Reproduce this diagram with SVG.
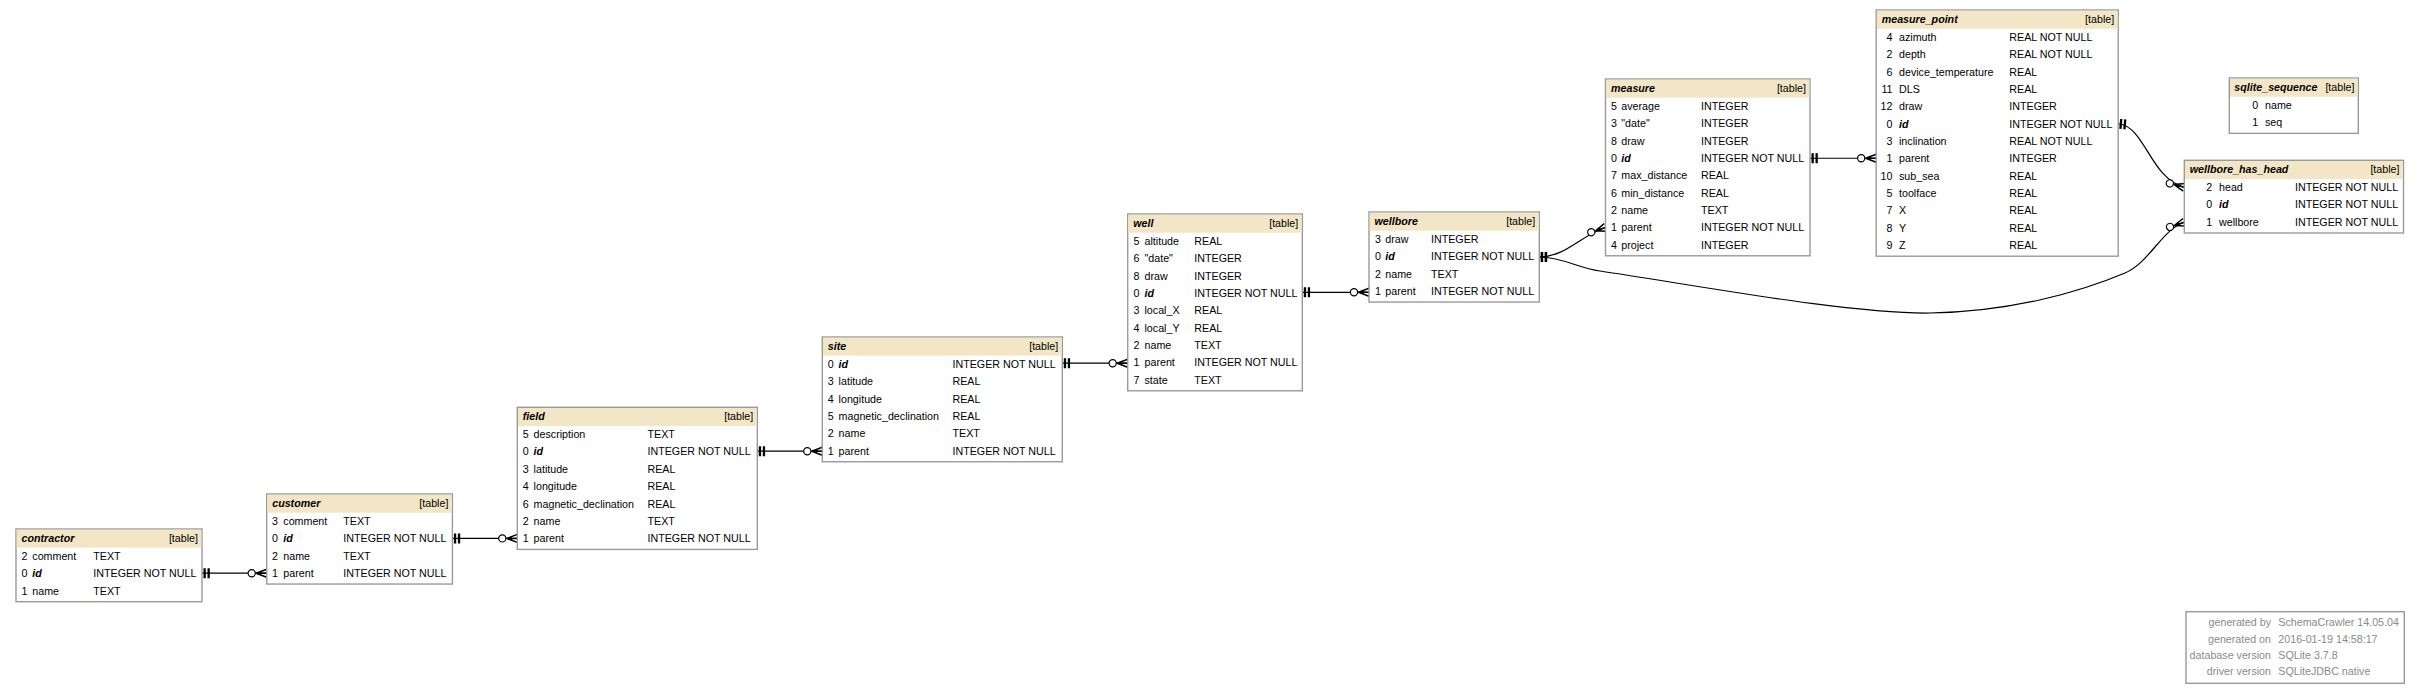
<svg xmlns="http://www.w3.org/2000/svg" width="2420" height="695" viewBox="0 0 2420 695">
<style>
text{font-family:"Liberation Sans",Arial,Helvetica,sans-serif;font-size:10.7px;fill:#000}
.b{fill:#fff;stroke:#9a9a9a;stroke-width:1.4}
.h{fill:#f2e6c6}
.t{font-weight:bold;font-style:italic}
.e{text-anchor:end}
.f{fill:#8a8a8a}
.c{fill:none;stroke:#000;stroke-width:1.2;marker-start:url(#tee);marker-end:url(#crow)}
</style>
<defs>
<marker id="tee" markerUnits="userSpaceOnUse" orient="auto" markerWidth="12" markerHeight="12" refX="0" refY="0" style="overflow:visible">
<path d="M1.5,-5h2.3v10h-2.3z M5.5,-5h2.3v10h-2.3z" fill="#000"/>
</marker>
<marker id="crow" markerUnits="userSpaceOnUse" orient="auto" markerWidth="20" markerHeight="12" refX="0" refY="0" style="overflow:visible">
<circle cx="-15" cy="0" r="3.6" fill="#fff" stroke="#000" stroke-width="1.2"/>
<path d="M-10.5,0L0,-4M-10.5,0L0,0M-10.5,0L0,4" fill="none" stroke="#000" stroke-width="1.5"/>
<path d="M-11,0L-5.5,-2.2L-5.5,2.2Z" fill="#000"/>
</marker>
</defs>
<rect width="2420" height="695" fill="#fff"/>

<g id="connectors">
<path class="c" d="M202,573.2L266.7,573.2"/>
<path class="c" d="M452.4,538.4L517.3,538.4"/>
<path class="c" d="M757.3,451.2L822.3,451.2"/>
<path class="c" d="M1062.3,363.2L1127.7,363.2"/>
<path class="c" d="M1302.3,292.3L1369,292.3"/>
<path class="c" d="M1539.3,257C1565,257 1580,236 1605.5,227.5"/>
<path class="c" d="M1539.3,257C1562,257 1578,268 1600,271C1700,286 1850,314 1930,313C2010,312 2080,292 2125,273C2150,262 2162,229.5 2184.3,222.3"/>
<path class="c" d="M1810,158.25L1876.2,158.25"/>
<path class="c" d="M2118.2,123.75C2145,126 2150,178 2184.3,187.3"/>
</g>

<g id="contractor">
<rect class="b" x="16" y="529" width="186" height="72.7"/>
<rect class="h" x="16.7" y="529.7" width="184.6" height="18"/>
<text class="t" x="21.5" y="542.1">contractor</text><text class="e" x="198" y="542.1">[table]</text>
<text class="e" x="27.5" y="559.8">2</text><text x="32.3" y="559.8">comment</text><text x="93.3" y="559.8">TEXT</text>
<text class="e" x="27.5" y="577.15">0</text><text class="t" x="32.3" y="577.15">id</text><text x="93.3" y="577.15">INTEGER NOT NULL</text>
<text class="e" x="27.5" y="594.5">1</text><text x="32.3" y="594.5">name</text><text x="93.3" y="594.5">TEXT</text>
</g>

<g id="customer">
<rect class="b" x="266.7" y="494" width="185.7" height="90.05"/>
<rect class="h" x="267.4" y="494.7" width="184.3" height="18"/>
<text class="t" x="272.2" y="507.1">customer</text><text class="e" x="448.4" y="507.1">[table]</text>
<text class="e" x="278" y="524.8">3</text><text x="283.3" y="524.8">comment</text><text x="343.3" y="524.8">TEXT</text>
<text class="e" x="278" y="542.15">0</text><text class="t" x="283.3" y="542.15">id</text><text x="343.3" y="542.15">INTEGER NOT NULL</text>
<text class="e" x="278" y="559.5">2</text><text x="283.3" y="559.5">name</text><text x="343.3" y="559.5">TEXT</text>
<text class="e" x="278" y="576.85">1</text><text x="283.3" y="576.85">parent</text><text x="343.3" y="576.85">INTEGER NOT NULL</text>
</g>

<g id="field">
<rect class="b" x="517.3" y="407.3" width="240" height="142.1"/>
<rect class="h" x="518" y="408" width="238.6" height="18"/>
<text class="t" x="522.8" y="420.4">field</text><text class="e" x="753.3" y="420.4">[table]</text>
<text class="e" x="528.8" y="438.1">5</text><text x="533.6" y="438.1">description</text><text x="647.5" y="438.1">TEXT</text>
<text class="e" x="528.8" y="455.45">0</text><text class="t" x="533.6" y="455.45">id</text><text x="647.5" y="455.45">INTEGER NOT NULL</text>
<text class="e" x="528.8" y="472.8">3</text><text x="533.6" y="472.8">latitude</text><text x="647.5" y="472.8">REAL</text>
<text class="e" x="528.8" y="490.15">4</text><text x="533.6" y="490.15">longitude</text><text x="647.5" y="490.15">REAL</text>
<text class="e" x="528.8" y="507.5">6</text><text x="533.6" y="507.5">magnetic_declination</text><text x="647.5" y="507.5">REAL</text>
<text class="e" x="528.8" y="524.85">2</text><text x="533.6" y="524.85">name</text><text x="647.5" y="524.85">TEXT</text>
<text class="e" x="528.8" y="542.2">1</text><text x="533.6" y="542.2">parent</text><text x="647.5" y="542.2">INTEGER NOT NULL</text>
</g>

<g id="site">
<rect class="b" x="822.3" y="337" width="240" height="124.75"/>
<rect class="h" x="823" y="337.7" width="238.6" height="18"/>
<text class="t" x="827.8" y="350.1">site</text><text class="e" x="1058.3" y="350.1">[table]</text>
<text class="e" x="833.8" y="367.8">0</text><text class="t" x="838.6" y="367.8">id</text><text x="952.5" y="367.8">INTEGER NOT NULL</text>
<text class="e" x="833.8" y="385.15">3</text><text x="838.6" y="385.15">latitude</text><text x="952.5" y="385.15">REAL</text>
<text class="e" x="833.8" y="402.5">4</text><text x="838.6" y="402.5">longitude</text><text x="952.5" y="402.5">REAL</text>
<text class="e" x="833.8" y="419.85">5</text><text x="838.6" y="419.85">magnetic_declination</text><text x="952.5" y="419.85">REAL</text>
<text class="e" x="833.8" y="437.2">2</text><text x="838.6" y="437.2">name</text><text x="952.5" y="437.2">TEXT</text>
<text class="e" x="833.8" y="454.55">1</text><text x="838.6" y="454.55">parent</text><text x="952.5" y="454.55">INTEGER NOT NULL</text>
</g>

<g id="well">
<rect class="b" x="1127.7" y="214" width="174.6" height="176.8"/>
<rect class="h" x="1128.4" y="214.7" width="173.2" height="18"/>
<text class="t" x="1133.2" y="227.1">well</text><text class="e" x="1298.3" y="227.1">[table]</text>
<text class="e" x="1139.5" y="244.8">5</text><text x="1144.5" y="244.8">altitude</text><text x="1194.3" y="244.8">REAL</text>
<text class="e" x="1139.5" y="262.15">6</text><text x="1144.5" y="262.15">"date"</text><text x="1194.3" y="262.15">INTEGER</text>
<text class="e" x="1139.5" y="279.5">8</text><text x="1144.5" y="279.5">draw</text><text x="1194.3" y="279.5">INTEGER</text>
<text class="e" x="1139.5" y="296.85">0</text><text class="t" x="1144.5" y="296.85">id</text><text x="1194.3" y="296.85">INTEGER NOT NULL</text>
<text class="e" x="1139.5" y="314.2">3</text><text x="1144.5" y="314.2">local_X</text><text x="1194.3" y="314.2">REAL</text>
<text class="e" x="1139.5" y="331.55">4</text><text x="1144.5" y="331.55">local_Y</text><text x="1194.3" y="331.55">REAL</text>
<text class="e" x="1139.5" y="348.9">2</text><text x="1144.5" y="348.9">name</text><text x="1194.3" y="348.9">TEXT</text>
<text class="e" x="1139.5" y="366.25">1</text><text x="1144.5" y="366.25">parent</text><text x="1194.3" y="366.25">INTEGER NOT NULL</text>
<text class="e" x="1139.5" y="383.6">7</text><text x="1144.5" y="383.6">state</text><text x="1194.3" y="383.6">TEXT</text>
</g>

<g id="wellbore">
<rect class="b" x="1369" y="212" width="170.3" height="90.05"/>
<rect class="h" x="1369.7" y="212.7" width="168.9" height="18"/>
<text class="t" x="1374.5" y="225.1">wellbore</text><text class="e" x="1535.3" y="225.1">[table]</text>
<text class="e" x="1381" y="242.8">3</text><text x="1385.3" y="242.8">draw</text><text x="1431" y="242.8">INTEGER</text>
<text class="e" x="1381" y="260.15">0</text><text class="t" x="1385.3" y="260.15">id</text><text x="1431" y="260.15">INTEGER NOT NULL</text>
<text class="e" x="1381" y="277.5">2</text><text x="1385.3" y="277.5">name</text><text x="1431" y="277.5">TEXT</text>
<text class="e" x="1381" y="294.85">1</text><text x="1385.3" y="294.85">parent</text><text x="1431" y="294.85">INTEGER NOT NULL</text>
</g>

<g id="measure">
<rect class="b" x="1605.5" y="79" width="204.5" height="176.8"/>
<rect class="h" x="1606.2" y="79.7" width="203.1" height="18"/>
<text class="t" x="1611" y="92.1">measure</text><text class="e" x="1806" y="92.1">[table]</text>
<text class="e" x="1617" y="109.8">5</text><text x="1621.3" y="109.8">average</text><text x="1701" y="109.8">INTEGER</text>
<text class="e" x="1617" y="127.15">3</text><text x="1621.3" y="127.15">"date"</text><text x="1701" y="127.15">INTEGER</text>
<text class="e" x="1617" y="144.5">8</text><text x="1621.3" y="144.5">draw</text><text x="1701" y="144.5">INTEGER</text>
<text class="e" x="1617" y="161.85">0</text><text class="t" x="1621.3" y="161.85">id</text><text x="1701" y="161.85">INTEGER NOT NULL</text>
<text class="e" x="1617" y="179.2">7</text><text x="1621.3" y="179.2">max_distance</text><text x="1701" y="179.2">REAL</text>
<text class="e" x="1617" y="196.55">6</text><text x="1621.3" y="196.55">min_distance</text><text x="1701" y="196.55">REAL</text>
<text class="e" x="1617" y="213.9">2</text><text x="1621.3" y="213.9">name</text><text x="1701" y="213.9">TEXT</text>
<text class="e" x="1617" y="231.25">1</text><text x="1621.3" y="231.25">parent</text><text x="1701" y="231.25">INTEGER NOT NULL</text>
<text class="e" x="1617" y="248.6">4</text><text x="1621.3" y="248.6">project</text><text x="1701" y="248.6">INTEGER</text>
</g>

<g id="measure_point">
<rect class="b" x="1876.2" y="10" width="242" height="246.2"/>
<rect class="h" x="1876.9" y="10.7" width="240.6" height="18"/>
<text class="t" x="1881.7" y="23.1">measure_point</text><text class="e" x="2114.2" y="23.1">[table]</text>
<text class="e" x="1892.5" y="40.8">4</text><text x="1899" y="40.8">azimuth</text><text x="2009.3" y="40.8">REAL NOT NULL</text>
<text class="e" x="1892.5" y="58.15">2</text><text x="1899" y="58.15">depth</text><text x="2009.3" y="58.15">REAL NOT NULL</text>
<text class="e" x="1892.5" y="75.5">6</text><text x="1899" y="75.5">device_temperature</text><text x="2009.3" y="75.5">REAL</text>
<text class="e" x="1892.5" y="92.85">11</text><text x="1899" y="92.85">DLS</text><text x="2009.3" y="92.85">REAL</text>
<text class="e" x="1892.5" y="110.2">12</text><text x="1899" y="110.2">draw</text><text x="2009.3" y="110.2">INTEGER</text>
<text class="e" x="1892.5" y="127.55">0</text><text class="t" x="1899" y="127.55">id</text><text x="2009.3" y="127.55">INTEGER NOT NULL</text>
<text class="e" x="1892.5" y="144.9">3</text><text x="1899" y="144.9">inclination</text><text x="2009.3" y="144.9">REAL NOT NULL</text>
<text class="e" x="1892.5" y="162.25">1</text><text x="1899" y="162.25">parent</text><text x="2009.3" y="162.25">INTEGER</text>
<text class="e" x="1892.5" y="179.6">10</text><text x="1899" y="179.6">sub_sea</text><text x="2009.3" y="179.6">REAL</text>
<text class="e" x="1892.5" y="196.95">5</text><text x="1899" y="196.95">toolface</text><text x="2009.3" y="196.95">REAL</text>
<text class="e" x="1892.5" y="214.3">7</text><text x="1899" y="214.3">X</text><text x="2009.3" y="214.3">REAL</text>
<text class="e" x="1892.5" y="231.65">8</text><text x="1899" y="231.65">Y</text><text x="2009.3" y="231.65">REAL</text>
<text class="e" x="1892.5" y="249">9</text><text x="1899" y="249">Z</text><text x="2009.3" y="249">REAL</text>
</g>

<g id="sqlite_sequence">
<rect class="b" x="2229.3" y="78" width="129" height="55.35"/>
<rect class="h" x="2230" y="78.7" width="127.6" height="18"/>
<text class="t" x="2234.3" y="91.1">sqlite_sequence</text><text class="e" x="2354.5" y="91.1">[table]</text>
<text class="e" x="2258.3" y="108.8">0</text><text x="2265" y="108.8">name</text>
<text class="e" x="2258.3" y="126.15">1</text><text x="2265" y="126.15">seq</text>
</g>

<g id="wellbore_has_head">
<rect class="b" x="2184.3" y="160.3" width="219.2" height="72.7"/>
<rect class="h" x="2185" y="161" width="217.8" height="18"/>
<text class="t" x="2189.8" y="173.4">wellbore_has_head</text><text class="e" x="2399.5" y="173.4">[table]</text>
<text class="e" x="2212.3" y="191.1">2</text><text x="2219" y="191.1">head</text><text x="2295" y="191.1">INTEGER NOT NULL</text>
<text class="e" x="2212.3" y="208.45">0</text><text class="t" x="2219" y="208.45">id</text><text x="2295" y="208.45">INTEGER NOT NULL</text>
<text class="e" x="2212.3" y="225.8">1</text><text x="2219" y="225.8">wellbore</text><text x="2295" y="225.8">INTEGER NOT NULL</text>
</g>

<g id="legend">
<rect class="b" x="2186" y="611.7" width="218.3" height="71.6"/>
<text class="f e" x="2271" y="626.3">generated by</text><text class="f" x="2278.3" y="626.3">SchemaCrawler 14.05.04</text>
<text class="f e" x="2271" y="642.5">generated on</text><text class="f" x="2278.3" y="642.5">2016-01-19 14:58:17</text>
<text class="f e" x="2271" y="658.7">database version</text><text class="f" x="2278.3" y="658.7">SQLite 3.7.8</text>
<text class="f e" x="2271" y="674.9">driver version</text><text class="f" x="2278.3" y="674.9">SQLiteJDBC native</text>
</g>
</svg>
